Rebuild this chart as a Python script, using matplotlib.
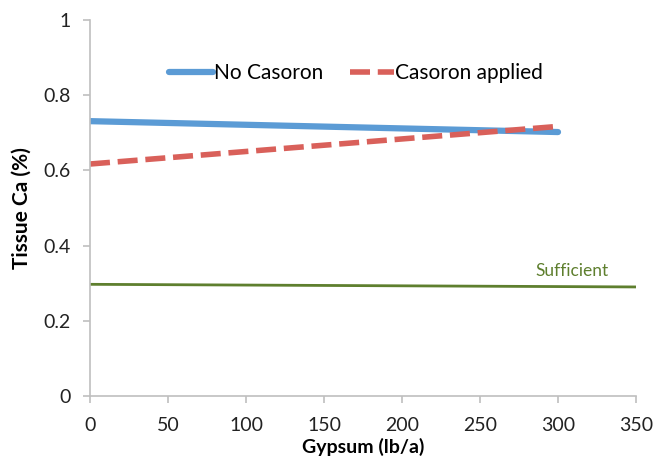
import matplotlib
matplotlib.use("Agg")
import matplotlib.pyplot as plt

gypsum = [0, 300]
no_casoron = [0.731, 0.702]
casoron_applied = [0.617, 0.717]
sufficient_x = [0, 350]
sufficient_y = [0.297, 0.290]

plt.rcParams['font.family'] = ['Lato', 'DejaVu Sans']

fig = plt.figure(figsize=(6.54, 4.59), dpi=100)
ax = fig.add_axes([0.1376, 0.1373, 0.9725 - 0.1376, 0.9564 - 0.1373])

ax.plot(gypsum, no_casoron, color='#5B9BD5', lw=4.5, solid_capstyle='round', label='No Casoron')
ax.plot(gypsum, casoron_applied, color='#D9605A', lw=4.0, dashes=(3.6, 1.4), label='Casoron applied')
ax.plot(sufficient_x, sufficient_y, color='#5E7F2E', lw=2.0)
ax.text(309, 0.333, 'Sufficient', color='#5E7F2E', fontsize=12.5, ha='center', va='center')

ax.set_xlim(0, 350)
ax.set_ylim(0, 1)
ax.set_xticks(range(0, 351, 50))
ax.set_yticks([0, 0.2, 0.4, 0.6, 0.8, 1])
ax.set_yticklabels(['0', '0.2', '0.4', '0.6', '0.8', '1'])
for s in ['top', 'right']:
    ax.spines[s].set_visible(False)
for s in ['left', 'bottom']:
    ax.spines[s].set_color('#BFBFBF')
    ax.spines[s].set_linewidth(1.2)
ax.tick_params(axis='both', colors='#BFBFBF', labelcolor='#222222', labelsize=14, length=5, width=1.2)
ax.tick_params(axis='x', pad=10)
ax.tick_params(axis='y', pad=9)
ax.set_xlabel('Gypsum (lb/a)', fontsize=14, fontweight='bold', labelpad=3)
ax.set_ylabel('Tissue Ca (%)', fontsize=15, fontweight='bold', labelpad=8)

leg = ax.legend(loc='upper center', bbox_to_anchor=(0.487, 0.935), ncol=2, frameon=False,
                fontsize=15, handlelength=2.1, handletextpad=0.05, columnspacing=1.3)

fig.savefig('out.png', dpi=100)
